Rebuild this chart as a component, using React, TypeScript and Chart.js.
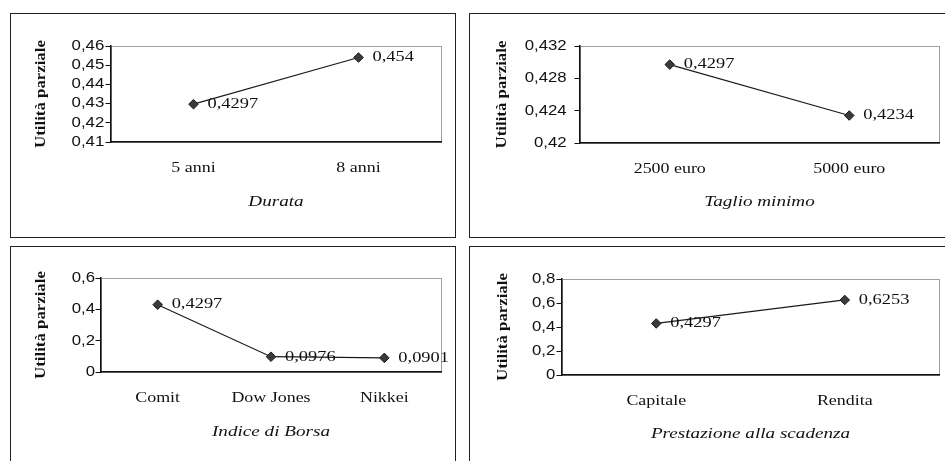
import React, { useEffect, useRef } from "react";
import { Chart, registerables } from "chart.js";

Chart.register(...registerables);

// ---- data ----
const durataCategories = ["5 anni", "8 anni"];
const durataValues = [0.4297, 0.454];
const durataTicks = [0.41, 0.42, 0.43, 0.44, 0.45, 0.46];

const taglioCategories = ["2500 euro", "5000 euro"];
const taglioValues = [0.4297, 0.4234];
const taglioTicks = [0.42, 0.424, 0.428, 0.432];

const indiceCategories = ["Comit", "Dow Jones", "Nikkei"];
const indiceValues = [0.4297, 0.0976, 0.0901];
const indiceTicks = [0, 0.2, 0.4, 0.6];

const prestazioneCategories = ["Capitale", "Rendita"];
const prestazioneValues = [0.4297, 0.6253];
const prestazioneTicks = [0, 0.2, 0.4, 0.6, 0.8];

const yAxisTitle = "Utilità parziale";

const fmt = (v: number) => String(Number(Number(v).toFixed(4))).replace(".", ",");

const SERIF = '"Liberation Serif", "Times New Roman", serif';
const SANS = '"Liberation Sans", Arial, sans-serif';
const B = 1;

type Frame = { left: number; top: number; width: number; height: number };
type Plot = { left: number; top: number; right: number; bottom: number };

type PanelProps = {
  frame: Frame;
  plot: Plot;
  yTitleX: number;
  xTitleY: number;
  tickPad: number;
  categories: string[];
  values: number[];
  ticks: number[];
  xTitle: string;
};

function Panel(p: PanelProps) {
  const ref = useRef<HTMLCanvasElement | null>(null);
  const cw = p.frame.width - 2 * B;
  const ch = p.frame.height - 2 * B;

  useEffect(() => {
    const canvas = ref.current;
    if (!canvas) return;
    // the source renders all text horizontally widened; emulate with a horizontal scale
    const c2 = canvas.getContext("2d") as any;
    const origFill = c2.fillText.bind(c2);
    const state = { sx: 1.28 };
    c2.fillText = (t: string, x: number, y: number, mw?: number) => {
      const s = String(c2.font).includes("Sans") ? 1.2 : state.sx;
      c2.save();
      c2.translate(x, y);
      c2.scale(s, 1);
      if (mw === undefined || mw === null || isNaN(mw)) origFill(t, 0, 0);
      else origFill(t, 0, 0, mw / s);
      c2.restore();
    };

    const decor = {
      id: "decor",
      beforeDraw(chart: any) {
        const { ctx, chartArea: a } = chart;
        ctx.save();
        ctx.strokeStyle = "#a0a0a0";
        ctx.lineWidth = 1;
        ctx.strokeRect(Math.round(a.left) + 0.5, Math.round(a.top) + 0.5, Math.round(a.right - a.left), Math.round(a.bottom - a.top));
        ctx.restore();
      },
      afterDatasetsDraw(chart: any) {
        const { ctx } = chart;
        const meta = chart.getDatasetMeta(0);
        ctx.save();
        state.sx = 1.27;
        ctx.font = `14.5px ${SERIF}`;
        ctx.fillStyle = "#111";
        ctx.textAlign = "left";
        ctx.textBaseline = "middle";
        meta.data.forEach((pt: any, i: number) => {
          ctx.fillText(fmt(p.values[i]), pt.x + 14, pt.y);
        });
        ctx.restore();
      },
      afterDraw(chart: any) {
        const { ctx, chartArea: a } = chart;
        ctx.save();
        ctx.fillStyle = "#111";
        // x title
        state.sx = 1.32;
        ctx.font = `italic 14.5px ${SERIF}`;
        ctx.textAlign = "center";
        ctx.textBaseline = "middle";
        ctx.fillText(p.xTitle, (a.left + a.right) / 2, p.xTitleY);
        // y title
        state.sx = 1.2;
        ctx.font = `bold 14px ${SERIF}`;
        ctx.translate(p.yTitleX, (a.top + a.bottom) / 2);
        ctx.rotate(-Math.PI / 2);
        ctx.fillText(yAxisTitle, 0, 0);
        ctx.restore();
        state.sx = 1.28;
      },
    };

    const chart = new Chart(canvas, {
      type: "line",
      data: {
        labels: p.categories,
        datasets: [
          {
            data: p.values,
            borderColor: "#1a1a1a",
            borderWidth: 1.2,
            pointStyle: "rectRot",
            pointRadius: 4.8,
            pointBackgroundColor: "#3a3a3a",
            pointBorderColor: "#1a1a1a",
            pointBorderWidth: 1,
            tension: 0,
            fill: false,
          },
        ],
      },
      options: {
        responsive: false,
        animation: false,
        devicePixelRatio: 1,
        events: [],
        layout: { padding: { left: 0, top: p.plot.top, right: cw - p.plot.right, bottom: 0 } },
        plugins: { legend: { display: false }, tooltip: { enabled: false }, title: { display: false } },
        scales: {
          x: {
            type: "category",
            offset: true,
            grid: { display: false },
            border: { display: true, color: "#111", width: 1.5 },
            ticks: {
              font: { family: SERIF, size: 14 },
              color: "#111",
              padding: 9.5,
              maxRotation: 0,
              autoSkip: false,
            },
            afterFit: (s: any) => {
              s.height = ch - p.plot.bottom;
            },
          },
          y: {
            type: "linear",
            min: p.ticks[0],
            max: p.ticks[p.ticks.length - 1],
            afterBuildTicks: (s: any) => {
              s.ticks = p.ticks.map((v) => ({ value: v }));
            },
            grid: { display: true, drawOnChartArea: false, drawTicks: true, tickLength: 5.5, color: "#111", lineWidth: 1 },
            border: { display: true, color: "#111", width: 1.5 },
            ticks: {
              font: { family: SANS, size: 14, lineHeight: 1 },
              color: "#111",
              padding: p.tickPad,
              autoSkip: false,
              callback: (v: any) => fmt(v),
            },
            afterFit: (s: any) => {
              s.width = p.plot.left;
            },
          },
        },
      },
      plugins: [decor as any],
    });
    return () => {
      chart.destroy();
      delete c2.fillText;
    };
  }, []);

  return (
    <div
      style={{
        position: "absolute",
        left: p.frame.left,
        top: p.frame.top,
        width: p.frame.width,
        height: p.frame.height,
        boxSizing: "border-box",
        border: `${B}px solid #222`,
        background: "#fff",
      }}
    >
      <canvas ref={ref} width={cw} height={ch} style={{ display: "block", width: cw + "px", height: ch + "px" }} />
    </div>
  );
}

export default function App() {
  return (
    <div style={{ position: "fixed", left: 0, top: 0, width: 945, height: 461, overflow: "hidden", background: "#fff" }}>
      <Panel
        frame={{ left: 10, top: 13, width: 446, height: 225 }}
        plot={{ left: 100, top: 32, right: 430, bottom: 128 }}
        yTitleX={30}
        xTitleY={188}
        tickPad={1.2}
        categories={durataCategories}
        values={durataValues}
        ticks={durataTicks}
        xTitle="Durata"
      />
      <Panel
        frame={{ left: 469, top: 13, width: 490, height: 225 }}
        plot={{ left: 110, top: 32, right: 469, bottom: 129 }}
        yTitleX={32}
        xTitleY={188}
        tickPad={7.8}
        categories={taglioCategories}
        values={taglioValues}
        ticks={taglioTicks}
        xTitle="Taglio minimo"
      />
      <Panel
        frame={{ left: 10, top: 246, width: 446, height: 240 }}
        plot={{ left: 90, top: 31, right: 430, bottom: 125 }}
        yTitleX={30.5}
        xTitleY={185}
        tickPad={0.5}
        categories={indiceCategories}
        values={indiceValues}
        ticks={indiceTicks}
        xTitle="Indice di Borsa"
      />
      <Panel
        frame={{ left: 469, top: 246, width: 490, height: 240 }}
        plot={{ left: 92, top: 32, right: 469, bottom: 128 }}
        yTitleX={33}
        xTitleY={187}
        tickPad={1.2}
        categories={prestazioneCategories}
        values={prestazioneValues}
        ticks={prestazioneTicks}
        xTitle="Prestazione alla scadenza"
      />
    </div>
  );
}
